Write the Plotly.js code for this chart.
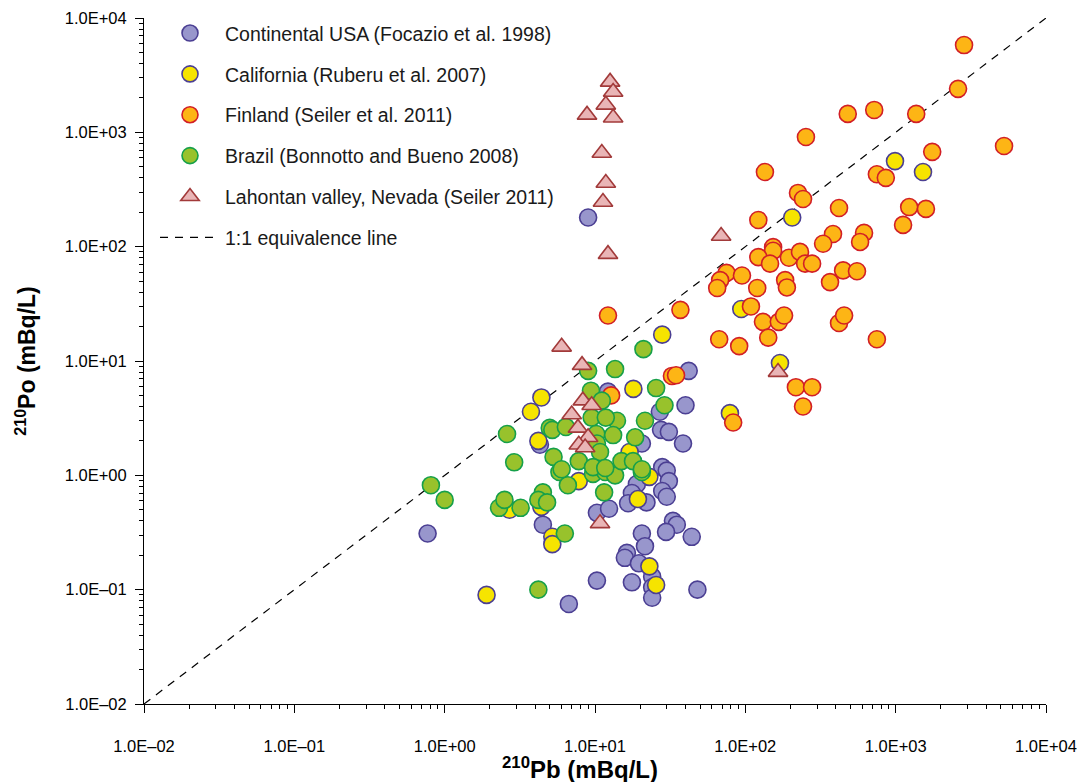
<!DOCTYPE html>
<html>
<head>
<meta charset="utf-8">
<script src="https://cdn.plot.ly/plotly-3.0.1.min.js"></script>
<style>html,body{margin:0;padding:0;background:#fff;}#chart{width:1077px;height:782px;}</style>
</head>
<body>
<div id="chart"></div>
<script>
// Continental USA (Focazio et al. 1998)
var usaX = [9.0,12.2,42,40,27,27.5,31,20.5,38.5,4.3,28,30,31,19,17.6,16.6,22,28,30,10.3,12.4,4.5,0.77,20.5,33,35,29.7,44,16.3,15.8,21.5,19.6,24,24,24,17.6,10.3,48,6.7];
var usaY = [180,5.4,8.2,4.1,3.6,2.5,2.4,1.9,1.9,1.85,1.18,1.1,0.89,0.84,0.70,0.57,0.58,0.73,0.65,0.47,0.51,0.37,0.31,0.31,0.40,0.37,0.32,0.29,0.21,0.19,0.24,0.17,0.13,0.105,0.085,0.116,0.12,0.10,0.075];
// California (Ruberu et al. 2007)
var caX = [990,1520,205,94,28,170,79,18,4.4,3.75,4.2,17,23,7.8,19.3,4.4,2.7,5.2,5.2,23,25.5,1.9];
var caY = [560,450,180,28.5,17,9.6,3.5,5.7,4.8,3.6,2.0,1.6,0.97,0.89,0.62,0.53,0.50,0.29,0.25,0.16,0.11,0.09];
// Finland (Seiler et al. 2011)
var fiX = [2850,2600,480,720,1370,253,5260,1750,135,750,860,420,1230,1590,224,242,122,1120,383,329,616,580,153,153,122,146,195,231,250,278,75,68,65,95,120,184,189,366,447,553,37,109,131,167,181,142,420,454,750,67,91,217,278,242,83,12.2,12.8,32.5,34.6];
var fiY = [5800,2400,1450,1570,1450,910,760,675,450,430,400,218,222,214,295,261,171,155,129,106,132,110,99,92,81,71,80,90,71,71,59,51,43.5,56,43.5,51,44,49,62,61,28,30,22,22,25,16,21.5,25,15.5,15.5,13.5,5.9,5.9,4.0,2.9,25,5.0,7.4,7.5];
// Brazil (Bonnotto and Bueno 2008)
var brX = [0.81,1.0,2.3,2.5,3.2,2.6,2.9,5.0,5.3,4.5,4.2,4.8,6.3,4.2,5.8,6.6,9.7,11.7,13.6,11.5,20.5,21,13.6,9.0,9.4,11.1,25.5,29,21.5,14,9.5,11.8,5.2,6.4,10.2,13.2,18.5,10.3,10.8,6.0,7.8,15,17.9,9.7,11.7,20.5];
var brY = [0.82,0.61,0.52,0.61,0.52,2.3,1.3,2.6,1.45,0.71,0.61,0.58,0.31,0.10,1.07,0.82,1.03,1.07,1.0,0.71,1.07,12.7,8.5,8.2,5.5,4.5,5.8,4.1,3.0,3.0,3.2,3.2,2.5,2.65,2.3,2.25,2.15,1.9,1.6,1.13,1.33,1.33,1.33,1.18,1.16,1.13];
// Lahontan valley, Nevada (Seiler 2011)
var laX = [12.6,13.2,11.8,8.85,13.2,11.1,11.8,11.3,12.2,69,6.0,8.2,8.3,9.5,7.0,7.7,9.0,7.8,8.6,10.8,165];
var laY = [2760,2250,1740,1420,1340,660,360,246,86,124,13.3,9.2,4.5,4.1,3.4,2.6,2.15,1.85,1.75,0.38,8.0];
// 1:1 line endpoints
var lineX = [0.01, 10000];
var lineY = [0.01, 10000];

var seriesNames = [
  "Continental USA (Focazio et al. 1998)",
  "California (Ruberu et al. 2007)",
  "Finland (Seiler et al. 2011)",
  "Brazil (Bonnotto and Bueno 2008)",
  "Lahontan valley, Nevada (Seiler 2011)",
  "1:1 equivalence line"
];
var xTitle = '<b><sup>210</sup>Pb (mBq/L)</b>';
var yTitle = '<b><sup>210</sup>Po (mBq/L)</b>';
var tickVals = [0.01, 0.1, 1, 10, 100, 1000, 10000];
var tickText = ["1.0E\u201302","1.0E\u201301","1.0E+00","1.0E+01","1.0E+02","1.0E+03","1.0E+04"];

var minorVals = [];
for (var d = -2; d < 4; d++) { for (var k = 2; k <= 9; k++) { minorVals.push(k * Math.pow(10, d)); } }

function circ(x, y, name, fill, edge, rank) {
  return {x: x, y: y, name: name, type: 'scatter', mode: 'markers', legendrank: rank, legendgroup: 'g' + rank,
    marker: {symbol: 'circle', size: 17, color: fill, line: {color: edge, width: 1.6}}};
}
var traces = [
  {x: lineX, y: lineY, name: seriesNames[5], type: 'scatter', mode: 'lines', legendrank: 6, legendgroup: 'g6',
   line: {color: '#000', width: 1.2, dash: '8px,7px'}},
  circ(usaX, usaY, seriesNames[0], '#9896cc', '#4b3f93', 1),
  circ(caX, caY, seriesNames[1], '#f6e400', '#4b3f93', 2),
  circ(fiX, fiY, seriesNames[2], '#fdb515', '#d21f26', 3),
  circ(brX, brY, seriesNames[3], '#98c22c', '#16a04a', 4),
  {x: laX, y: laY, name: seriesNames[4], type: 'scatter', mode: 'markers', legendrank: 5, legendgroup: 'g5',
   marker: {symbol: 'triangle-up', size: 17, color: '#e9b5b6', line: {color: '#a23a3a', width: 1.6}}}
];

var axisCommon = {
  type: 'log', tickmode: 'array', tickvals: tickVals, ticktext: tickText,
  showgrid: false, zeroline: false, showline: true, linecolor: '#000', linewidth: 1,
  ticks: 'outside', ticklen: 8, tickwidth: 1, tickcolor: '#000',
  tickfont: {family: 'Liberation Sans, Arial, sans-serif', size: 16.5, color: '#000'},
  ticklabeloverflow: 'allow',
  minor: {tickmode: 'array', tickvals: minorVals, ticks: 'outside', ticklen: 4, tickwidth: 1, tickcolor: '#000', showgrid: false},
  mirror: false
};
var layout = {
  width: 1077, height: 782,
  margin: {l: 144, r: 31, t: 18, b: 78},
  paper_bgcolor: '#fff', plot_bgcolor: '#fff',
  font: {family: 'Liberation Sans, Arial, sans-serif', color: '#000'},
  showlegend: true,
  xaxis: Object.assign({}, axisCommon, {range: [-2, 4], ticklabelstandoff: 19}),
  yaxis: Object.assign({}, axisCommon, {range: [-2, 4], ticklabelstandoff: 5,
    title: {text: yTitle, font: {size: 23, color: '#000'}, standoff: 22}}),
  annotations: [
    {text: xTitle, xref: 'paper', yref: 'paper', x: (580 - 144) / 902, y: -(768 - 704) / 686,
     xanchor: 'center', yanchor: 'middle', showarrow: false, font: {size: 24, color: '#000'}}
  ],
  legend: {x: 0.0122, y: 1.006, xanchor: 'left', yanchor: 'top', bgcolor: 'rgba(0,0,0,0)',
    font: {size: 19.5, color: '#1a1a1a'}, tracegroupgap: 12.5, itemwidth: 60}
};
Plotly.newPlot('chart', traces, layout, {displayModeBar: false, staticPlot: true});
</script>
</body>
</html>
